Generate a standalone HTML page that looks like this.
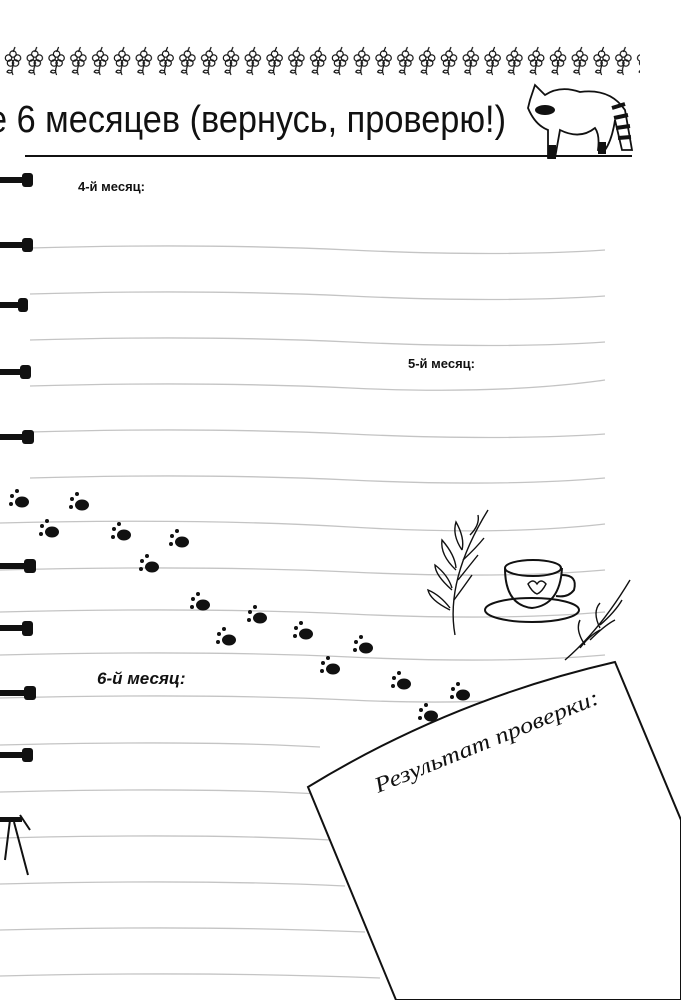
<!DOCTYPE html>
<html><head><meta charset="utf-8"><style>
html,body{margin:0;padding:0;background:#fff;}
body{width:681px;height:1000px;position:relative;overflow:hidden;font-family:"Liberation Sans","Noto Sans CJK SC",sans-serif;}
svg{position:absolute;left:0;top:0;}
</style></head><body>
<svg width="681" height="1000" viewBox="0 0 681 1000">
<defs>
<pattern id="flw" x="2" y="44" width="21.8" height="34" patternUnits="userSpaceOnUse">
<g fill="none" stroke="#111" stroke-width="1.2">
<circle cx="11" cy="10" r="3.2"/><circle cx="15.5" cy="14" r="3.2"/><circle cx="6.5" cy="14" r="3.2"/><circle cx="8.5" cy="19" r="3.2"/><circle cx="13.5" cy="19" r="3.2"/>
<path d="M11 22 Q9 27 11 31"/><path d="M10 27 Q6 25 5 28 Q8 30 10 28"/><path d="M11 8 L13 3"/>
</g>
</pattern>
</defs>
<rect x="2" y="44" width="638" height="34" fill="url(#flw)"/>
<g id="lines" stroke="#c4c4c4" stroke-width="1.3" fill="none">
<path d="M30 248 Q200 243 350 250 T605 250"/>
<path d="M30 294 Q200 289 350 296 T605 296"/>
<path d="M30 340 Q200 335 350 342 T605 342"/>
<path d="M30 386 Q200 381 350 388 T605 380"/>
<path d="M30 432 Q200 427 350 434 T605 434"/>
<path d="M30 478 Q200 473 350 480 T605 478"/>
<path d="M0 523 Q200 518 350 527 T605 524"/>
<path d="M0 570 Q200 565 350 572 T605 570"/>
<path d="M0 612 Q200 607 350 614 T605 612"/>
<path d="M0 655 Q200 650 350 657 T605 655"/>
<path d="M0 698 Q200 693 350 700 T605 690"/>
<path d="M0 745 Q200 740 320 747"/>
<path d="M0 792 Q200 787 320 794"/>
<path d="M0 838 Q200 833 330 840"/>
<path d="M0 884 Q200 879 345 886"/>
<path d="M0 930 Q200 925 365 932"/>
<path d="M0 976 Q200 971 380 978"/>
</g>
<line x1="25" y1="156" x2="632" y2="156" stroke="#111" stroke-width="2"/>
<g fill="#111">
<g id="rings">
<rect x="0" y="177" width="24" height="6"/><rect x="22" y="173" width="11" height="14" rx="3"/>
<rect x="0" y="242" width="24" height="6"/><rect x="22" y="238" width="11" height="14" rx="3"/>
<rect x="0" y="302" width="20" height="6"/><rect x="18" y="298" width="10" height="14" rx="3"/>
<rect x="0" y="369" width="22" height="6"/><rect x="20" y="365" width="11" height="14" rx="3"/>
<rect x="0" y="434" width="24" height="6"/><rect x="22" y="430" width="12" height="14" rx="3"/>
<rect x="0" y="563" width="24" height="6"/><rect x="24" y="559" width="12" height="14" rx="3"/>
<rect x="0" y="625" width="24" height="6"/><rect x="22" y="621" width="11" height="15" rx="3"/>
<rect x="0" y="690" width="24" height="6"/><rect x="24" y="686" width="12" height="14" rx="3"/>
<rect x="0" y="752" width="24" height="6"/><rect x="22" y="748" width="11" height="14" rx="3"/>
<rect x="0" y="817" width="22" height="5"/>
<path d="M10 820 L5 860 M14 822 L28 875 M20 815 L30 830" stroke="#111" stroke-width="2" fill="none"/>
</g>
<g id="paws">
<g transform="translate(20 500)"><ellipse cx="2" cy="2" rx="7" ry="5.5"/><circle cx="-8" cy="-4" r="2"/><circle cx="-3" cy="-9" r="2"/><circle cx="-9" cy="4" r="2"/></g>
<g transform="translate(80 503)"><ellipse cx="2" cy="2" rx="7" ry="5.5"/><circle cx="-8" cy="-4" r="2"/><circle cx="-3" cy="-9" r="2"/><circle cx="-9" cy="4" r="2"/></g>
<g transform="translate(50 530)"><ellipse cx="2" cy="2" rx="7" ry="5.5"/><circle cx="-8" cy="-4" r="2"/><circle cx="-3" cy="-9" r="2"/><circle cx="-9" cy="4" r="2"/></g>
<g transform="translate(122 533)"><ellipse cx="2" cy="2" rx="7" ry="5.5"/><circle cx="-8" cy="-4" r="2"/><circle cx="-3" cy="-9" r="2"/><circle cx="-9" cy="4" r="2"/></g>
<g transform="translate(180 540)"><ellipse cx="2" cy="2" rx="7" ry="5.5"/><circle cx="-8" cy="-4" r="2"/><circle cx="-3" cy="-9" r="2"/><circle cx="-9" cy="4" r="2"/></g>
<g transform="translate(150 565)"><ellipse cx="2" cy="2" rx="7" ry="5.5"/><circle cx="-8" cy="-4" r="2"/><circle cx="-3" cy="-9" r="2"/><circle cx="-9" cy="4" r="2"/></g>
<g transform="translate(201 603)"><ellipse cx="2" cy="2" rx="7" ry="5.5"/><circle cx="-8" cy="-4" r="2"/><circle cx="-3" cy="-9" r="2"/><circle cx="-9" cy="4" r="2"/></g>
<g transform="translate(258 616)"><ellipse cx="2" cy="2" rx="7" ry="5.5"/><circle cx="-8" cy="-4" r="2"/><circle cx="-3" cy="-9" r="2"/><circle cx="-9" cy="4" r="2"/></g>
<g transform="translate(227 638)"><ellipse cx="2" cy="2" rx="7" ry="5.5"/><circle cx="-8" cy="-4" r="2"/><circle cx="-3" cy="-9" r="2"/><circle cx="-9" cy="4" r="2"/></g>
<g transform="translate(304 632)"><ellipse cx="2" cy="2" rx="7" ry="5.5"/><circle cx="-8" cy="-4" r="2"/><circle cx="-3" cy="-9" r="2"/><circle cx="-9" cy="4" r="2"/></g>
<g transform="translate(364 646)"><ellipse cx="2" cy="2" rx="7" ry="5.5"/><circle cx="-8" cy="-4" r="2"/><circle cx="-3" cy="-9" r="2"/><circle cx="-9" cy="4" r="2"/></g>
<g transform="translate(331 667)"><ellipse cx="2" cy="2" rx="7" ry="5.5"/><circle cx="-8" cy="-4" r="2"/><circle cx="-3" cy="-9" r="2"/><circle cx="-9" cy="4" r="2"/></g>
<g transform="translate(402 682)"><ellipse cx="2" cy="2" rx="7" ry="5.5"/><circle cx="-8" cy="-4" r="2"/><circle cx="-3" cy="-9" r="2"/><circle cx="-9" cy="4" r="2"/></g>
<g transform="translate(461 693)"><ellipse cx="2" cy="2" rx="7" ry="5.5"/><circle cx="-8" cy="-4" r="2"/><circle cx="-3" cy="-9" r="2"/><circle cx="-9" cy="4" r="2"/></g>
<g transform="translate(429 714)"><ellipse cx="2" cy="2" rx="7" ry="5.5"/><circle cx="-8" cy="-4" r="2"/><circle cx="-3" cy="-9" r="2"/><circle cx="-9" cy="4" r="2"/></g>
</g>
</g>
<g stroke="#111" stroke-width="1.4" fill="none">
<path d="M455 635 Q445 580 488 510"/>
<path d="M450 610 Q430 600 428 590 Q440 595 450 608"/>
<path d="M452 590 Q435 575 435 565 Q448 575 452 588"/>
<path d="M456 570 Q440 555 442 540 Q455 555 456 568"/>
<path d="M462 550 Q452 535 456 522 Q465 538 462 550"/>
<path d="M470 535 Q480 525 478 515"/>
<path d="M454 600 Q465 585 472 575"/>
<path d="M458 580 Q470 565 478 555"/>
<path d="M463 560 Q476 548 484 538"/>
<path d="M565 660 Q600 630 630 580"/>
<path d="M580 648 Q590 635 600 630"/><path d="M590 640 Q605 625 615 620"/><path d="M600 625 Q615 612 622 600"/>
<path d="M585 645 Q575 630 580 620"/><path d="M600 628 Q592 612 600 603"/>
<ellipse cx="532" cy="610" rx="47" ry="12" stroke-width="2"/>
<path d="M505 568 Q505 605 532 608 Q560 605 562 568" stroke-width="2"/>
<ellipse cx="533" cy="568" rx="28" ry="8" stroke-width="2"/>
<path d="M562 575 Q578 575 574 590 Q568 598 556 596" stroke-width="2"/>
<path d="M528 584 q5 -6 9 0 q4 -6 9 0 q-4 8 -9 10 q-5 -2 -9 -10z"/>
<path d="M530 100 L535 85 L545 95 Q560 85 580 92 Q610 88 625 110 L632 150 L622 150 L615 120 Q612 140 605 150 L598 150 Q600 135 595 128 Q580 140 560 130 L555 158 L548 158 L548 130 Q535 125 528 108z" stroke-width="1.8"/>
<path d="M612 108 L625 104 M614 118 L628 115 M616 128 L630 126 M618 138 L631 137" stroke-width="4"/>
<path d="M308 787 Q450 700 615 662 L681 820 L681 1000 L396 1000 Z" fill="#fff" stroke="#111" stroke-width="2"/>
</g>
<g fill="#111"><ellipse cx="545" cy="110" rx="10" ry="5"/><rect x="548" y="145" width="8" height="14"/><rect x="598" y="142" width="8" height="12"/></g>
<text x="-12" y="132" font-family="Liberation Sans Narrow,Liberation Sans,sans-serif" font-size="38" fill="#111" textLength="518" lengthAdjust="spacingAndGlyphs">е 6 месяцев (вернусь, проверю!)</text>
<text x="78" y="191" font-size="13" font-weight="bold" fill="#111">4-й месяц:</text>
<text x="408" y="368" font-size="13" font-weight="bold" fill="#111">5-й месяц:</text>
<text x="97" y="684" font-size="17" font-weight="bold" font-style="italic" fill="#111">6-й месяц:</text>
<text x="0" y="0" transform="translate(378 793) rotate(-22)" font-family="Liberation Serif,serif" font-style="italic" font-size="22" fill="#111" textLength="240" lengthAdjust="spacingAndGlyphs">Результат проверки:</text>
</svg>
</body></html>
